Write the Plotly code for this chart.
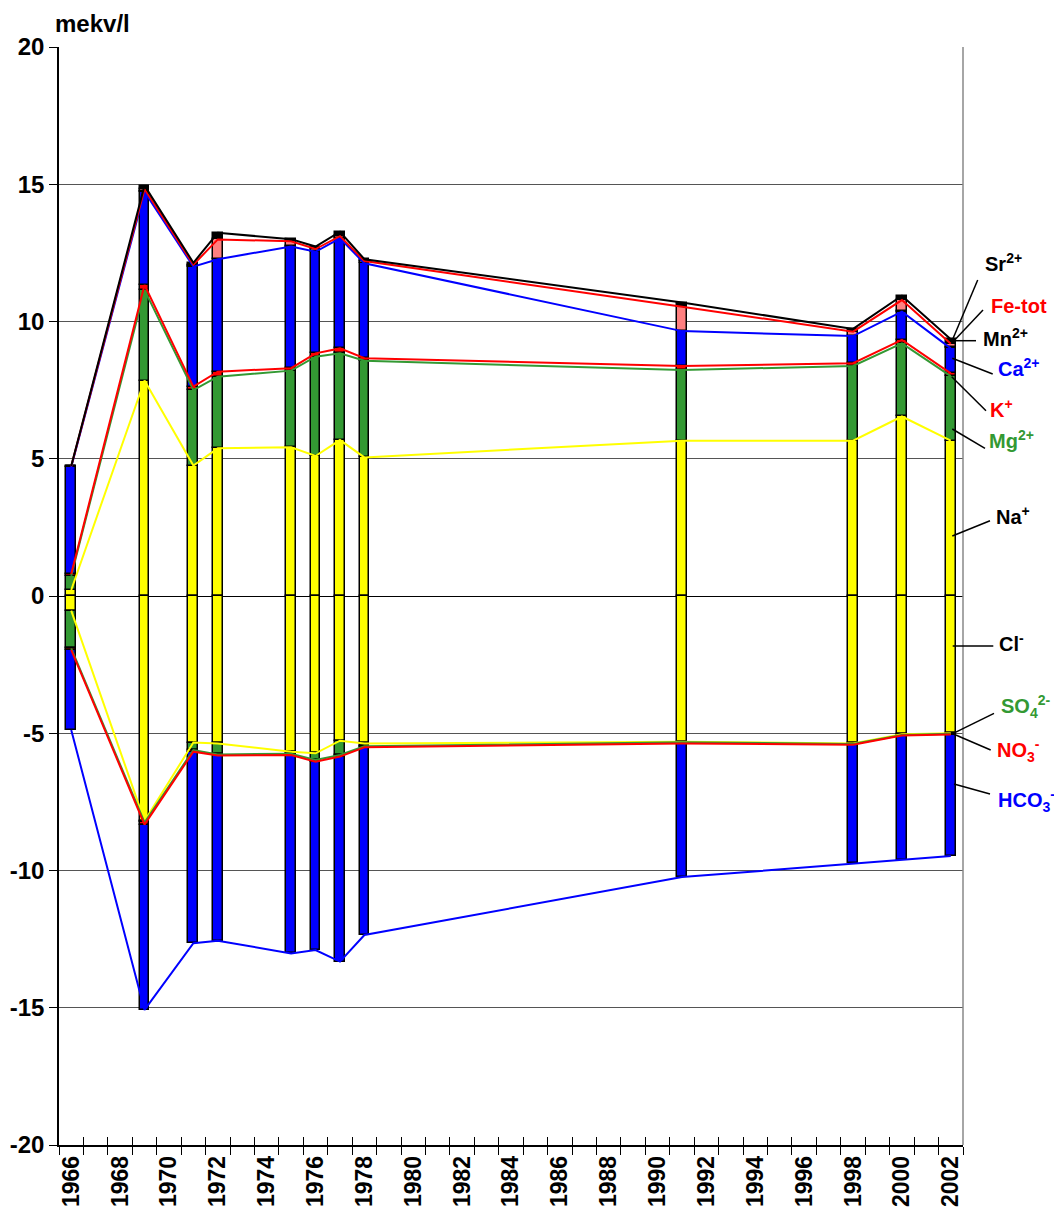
import plotly.graph_objects as go
import numpy as np

# ---------------- data (mekv/l) ----------------
years = [1966, 1969, 1971, 1972, 1975, 1976, 1977, 1978, 1991, 1998, 2000, 2002]

# cations (positive)
na = [0.22, 7.85, 4.75, 5.38, 5.42, 5.10, 5.68, 5.05, 5.66, 5.66, 6.54, 5.66]
mg = [0.52, 3.30, 2.75, 2.61, 2.79, 3.62, 3.16, 3.52, 2.57, 2.72, 2.66, 2.35]
k = [0.06, 0.18, 0.13, 0.18, 0.09, 0.12, 0.18, 0.09, 0.15, 0.10, 0.13, 0.10]
ca = [3.90, 3.40, 4.37, 4.10, 4.43, 3.70, 4.01, 3.46, 1.27, 0.99, 1.03, 0.91]
mn = [0.01, 0.03, 0.02, 0.02, 0.02, 0.02, 0.02, 0.02, 0.02, 0.02, 0.02, 0.05]
fe = [0.02, 0.07, 0.05, 0.70, 0.17, 0.08, 0.06, 0.06, 0.87, 0.14, 0.40, 0.12]
sr = [0.01, 0.12, 0.07, 0.24, 0.08, 0.09, 0.16, 0.07, 0.15, 0.10, 0.16, 0.16]

# anions (negative)
cl = [-0.53, -8.20, -5.34, -5.37, -5.67, -5.73, -5.27, -5.37, -5.31, -5.37, -5.04, -5.00]
so4 = [-1.38, -0.05, -0.27, -0.40, -0.08, -0.24, -0.52, -0.10, -0.02, -0.02, -0.02, -0.02]
no3 = [-0.05, -0.08, -0.06, -0.04, -0.04, -0.07, -0.06, -0.04, -0.04, -0.03, -0.02, -0.03]
hco3 = [-2.92, -6.75, -6.98, -6.75, -7.23, -6.86, -7.47, -6.84, -4.87, -4.32, -4.54, -4.42]

y_tickvals = [-20, -15, -10, -5, 0, 5, 10, 15, 20]
y_ticktext = ["-20", "-15", "-10", "-5", "0", "5", "10", "15", "20"]
x_tickvals = list(range(1966, 2003, 2))
x_ticktext = [str(v) for v in x_tickvals]

# ---------------- styling ----------------
YELLOW = "#FFFF00"
GREEN = "#339933"
RED = "#FF0000"
BLUE = "#0000FF"
PINK = "#FF8080"
BLACK = "#000000"
FONT = "Liberation Sans, Arial, sans-serif"

W, H = 1054, 1212
L, R, T, B = 59, 91, 47, 67
PW, PH = W - L - R, H - T - B


def px(xp):
    return (xp - L) / PW


def py(yp):
    return (H - B - yp) / PH


fig = go.Figure()

bar_series = [
    (na, YELLOW), (mg, GREEN), (k, RED), (ca, BLUE), (mn, BLACK), (fe, PINK), (sr, BLACK),
    (cl, YELLOW), (so4, GREEN), (no3, RED), (hco3, BLUE),
]
for vals, col in bar_series:
    fig.add_trace(go.Bar(
        x=years, y=vals, width=0.4,
        marker=dict(color=col, line=dict(color=BLACK, width=1.5)),
        showlegend=False, hoverinfo="skip",
    ))

# cumulative levels for connecting lines
pos = np.array([na, mg, k, ca, mn, fe, sr])
neg = np.array([cl, so4, no3, hco3])
cpos = np.cumsum(pos, axis=0)
cneg = np.cumsum(neg, axis=0)

line_specs = [
    (cpos[0], YELLOW), (cneg[0], YELLOW),
    (cpos[1], GREEN), (cneg[1], GREEN),
    (cpos[2], RED), (cneg[2], RED),
    (cpos[3], BLUE), (cneg[3], BLUE),
    (cpos[5], RED),
    (cpos[6], BLACK),
]
for yy, col in line_specs:
    fig.add_trace(go.Scatter(
        x=years, y=yy, mode="lines", line=dict(color=col, width=2),
        showlegend=False, hoverinfo="skip",
    ))

# invisible trace for overlay axis (inside half of the crossing ticks)
fig.add_trace(go.Scatter(x=[1966], y=[0], xaxis="x2", mode="markers",
                         marker=dict(opacity=0), showlegend=False, hoverinfo="skip"))

fig.update_layout(
    width=W, height=H, autosize=False,
    margin=dict(l=L, r=R, t=T, b=B),
    plot_bgcolor="white", paper_bgcolor="white",
    barmode="relative", bargap=0,
    font=dict(family=FONT, color=BLACK),
    xaxis=dict(
        range=[1965.5, 2002.5], tickmode="array", tickvals=x_tickvals, ticktext=x_ticktext,
        tickangle=-90, ticks="", showgrid=False, zeroline=False,
        showline=True, linecolor=BLACK, linewidth=1.5, automargin=False,
        tickfont=dict(family=FONT, size=23, weight="bold", color=BLACK),
        minor=dict(tick0=1965.5, dtick=1, ticks="outside", ticklen=8, tickwidth=1,
                   tickcolor=BLACK, showgrid=False),
    ),
    xaxis2=dict(
        overlaying="x", range=[1965.5, 2002.5], side="bottom", anchor="y",
        tick0=1965.5, dtick=1, ticks="inside", ticklen=8, tickwidth=1, tickcolor=BLACK,
        showticklabels=False, showgrid=False, zeroline=False, showline=False,
    ),
    yaxis=dict(
        range=[-20, 20], tickmode="array", tickvals=y_tickvals, ticktext=y_ticktext,
        ticks="outside", ticklen=8, tickwidth=1, tickcolor=BLACK,
        showgrid=True, gridcolor="#555555", gridwidth=1,
        zeroline=True, zerolinecolor=BLACK, zerolinewidth=1,
        showline=True, linecolor=BLACK, linewidth=1.5, automargin=False,
        tickfont=dict(family=FONT, size=24, weight="bold", color=BLACK),
    ),
)

# right border of plot area
fig.add_shape(type="line", xref="paper", yref="paper", x0=1, x1=1, y0=0, y1=1,
              line=dict(color="#888888", width=1.5))

# unit title
fig.add_annotation(text="mekv/l", xref="paper", yref="paper", x=px(53), y=py(24),
                   xanchor="left", yanchor="middle", showarrow=False,
                   font=dict(family=FONT, size=24, weight="bold", color=BLACK))

# ion labels with leader lines
labels = [
    ("Sr<sup>2+</sup>", BLACK, 983, 262, (977.7, 280), (952.7, 339.3)),
    ("Fe-tot", RED, 989, 306, (983, 310), (954, 340.7)),
    ("Mn<sup>2+</sup>", BLACK, 981, 337, (976, 340.7), (955, 340.7)),
    ("Ca<sup>2+</sup>", BLUE, 996, 367, (992.7, 374), (952.3, 358.3)),
    ("K<sup>+</sup>", RED, 988, 408, (986, 410.7), (951.7, 376.7)),
    ("Mg<sup>2+</sup>", GREEN, 987, 440, (985, 448.3), (952.3, 429)),
    ("Na<sup>+</sup>", BLACK, 994, 515, (990, 520.7), (952.3, 536)),
    ("Cl<sup>-</sup>", BLACK, 997, 642, (993.3, 646), (952.7, 646)),
    ("SO<sub>4</sub><sup>2-</sup>", GREEN, 999, 706, (994, 713.3), (953.3, 733.3)),
    ("NO<sub>3</sub><sup>-</sup>", RED, 995, 750, (990.7, 750), (954, 734.3)),
    ("HCO<sub>3</sub><sup>-</sup>", BLUE, 996, 800, (990, 794), (954, 784)),
]
for txt, col, lx, ly, p0, p1 in labels:
    fig.add_annotation(text=txt, xref="paper", yref="paper", x=px(lx), y=py(ly),
                       xanchor="left", yanchor="middle", showarrow=False,
                       font=dict(family=FONT, size=20, weight="bold", color=col))
    fig.add_shape(type="line", xref="paper", yref="paper",
                  x0=px(p0[0]), y0=py(p0[1]), x1=px(p1[0]), y1=py(p1[1]),
                  line=dict(color=BLACK, width=1.5))

fig.write_html(
    "out.html",
    config={"displayModeBar": False},
    post_script="document.body.style.margin='0';document.body.style.overflow='hidden';",
)
